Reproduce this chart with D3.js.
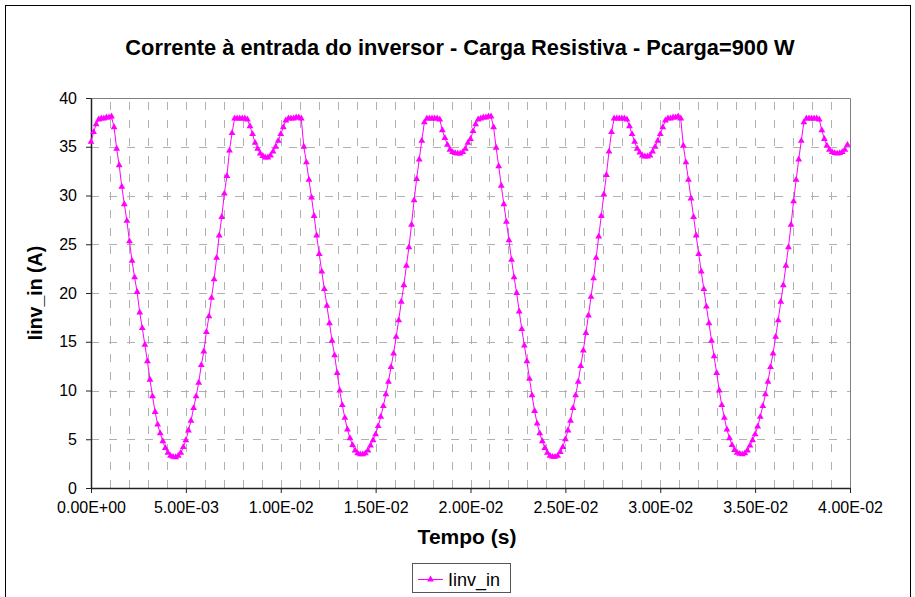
<!DOCTYPE html>
<html>
<head>
<meta charset="utf-8">
<script src="https://cdn.jsdelivr.net/npm/d3@7"></script>
<style>
  html, body { margin: 0; padding: 0; background: #fff; }
  svg { display: block; font-family: Arial, "Liberation Sans", sans-serif; }
</style>
</head>
<body>
<svg id="chart" width="915" height="597"></svg>
<script>
// ---- data ----
const chartTitle = "Corrente à entrada do inversor - Carga Resistiva - Pcarga=900 W";
const xAxisTitle = "Tempo (s)";
const yAxisTitle = "Iinv_in (A)";
const seriesName = "Iinv_in";
const sampleStep = 0.01 / 74;   // s, uniform sampling of the simulation output
const xTicks = [0, 0.005, 0.01, 0.015, 0.02, 0.025, 0.03, 0.035, 0.04];
const yTicks = [0, 5, 10, 15, 20, 25, 30, 35, 40];

// Iinv_in (A), one array per 10 ms period
const iinvPeriod1 = [
  35.5, 36.5, 37.3, 37.8, 37.9, 37.9, 38.0, 38.0, 38.1, 37.0,
  34.8, 33.1, 30.9, 29.1, 27.4, 25.3, 23.3, 21.6, 20.1, 18.0,
  16.4, 14.7, 13.0, 11.1, 9.4, 7.8, 6.5, 5.6, 4.8, 4.1,
  3.6, 3.3, 3.2, 3.15, 3.3, 3.6, 4.2, 4.9, 5.9, 6.9,
  8.2, 9.4, 10.8, 12.6, 14.0, 16.0, 17.6, 19.5, 21.4, 23.6,
  25.9, 27.8, 30.2, 32.0, 34.6, 36.4, 37.9, 37.9, 37.9, 37.9,
  37.9, 37.8, 37.1, 36.3, 35.4, 34.8, 34.3, 34.05, 33.9, 33.9,
  34.1, 34.5, 35.0, 35.6
];
const iinvPeriod2 = [
  36.3, 37.0, 37.7, 37.9, 37.9, 37.9, 38.0, 38.0, 37.9, 35.0,
  33.4, 31.6, 29.8, 27.9, 25.9, 24.0, 22.2, 20.4, 18.7, 16.9,
  15.1, 13.6, 11.8, 10.0, 8.5, 7.2, 6.0, 5.1, 4.4, 3.85,
  3.55, 3.45, 3.45, 3.55, 3.85, 4.35, 4.9, 5.5, 6.35, 7.3,
  8.4, 9.6, 10.9, 12.4, 13.8, 15.5, 17.2, 19.1, 20.8, 22.8,
  24.7, 27.0, 29.5, 31.7, 33.7, 35.6, 37.5, 37.9, 37.9, 37.9,
  37.9, 37.9, 37.8, 36.7, 35.9, 35.2, 34.7, 34.45, 34.35, 34.3,
  34.3, 34.45, 34.8, 35.4
];
const iinvPeriod3 = [
  35.8, 36.6, 37.3, 37.8, 37.9, 38.0, 38.0, 38.1, 38.1, 37.0,
  34.9, 33.0, 31.0, 29.1, 27.3, 25.4, 23.4, 21.6, 20.0, 18.1,
  16.3, 14.6, 13.0, 11.2, 9.5, 7.9, 6.6, 5.6, 4.8, 4.1,
  3.6, 3.3, 3.2, 3.2, 3.3, 3.7, 4.2, 5.0, 5.9, 6.9,
  8.2, 9.5, 10.9, 12.5, 14.1, 15.9, 17.7, 19.6, 21.5, 23.6,
  25.8, 27.9, 30.1, 32.1, 34.5, 36.5, 37.9, 37.9, 37.9, 37.9,
  37.9, 37.8, 37.1, 36.3, 35.5, 34.8, 34.4, 34.1, 34.0, 34.0,
  34.1, 34.5, 35.0, 35.6
];
const iinvPeriod4 = [
  36.3, 37.0, 37.7, 37.9, 37.9, 38.0, 38.0, 38.1, 37.9, 35.1,
  33.4, 31.6, 29.7, 27.8, 25.9, 24.0, 22.2, 20.4, 18.6, 16.9,
  15.1, 13.5, 11.8, 10.0, 8.5, 7.2, 6.0, 5.1, 4.4, 3.9,
  3.6, 3.5, 3.45, 3.55, 3.85, 4.35, 4.9, 5.5, 6.3, 7.3,
  8.4, 9.6, 10.9, 12.4, 13.8, 15.5, 17.2, 19.1, 20.8, 22.8,
  24.7, 27.0, 29.4, 31.6, 33.7, 35.6, 37.5, 37.9, 37.9, 37.9,
  37.9, 37.9, 37.8, 36.7, 35.8, 35.1, 34.7, 34.45, 34.35, 34.3,
  34.35, 34.45, 34.7, 35.2
];

const iinv = [].concat(iinvPeriod1, iinvPeriod2, iinvPeriod3, iinvPeriod4);
const data = iinv.map((v, i) => ({ t: i * sampleStep, v: v }));

// ---- layout ----
const svg = d3.select("#chart");
const plot = { left: 91, right: 850, top: 98, bottom: 488 };

svg.append("rect").attr("x", 0).attr("y", 0).attr("width", 915).attr("height", 597).attr("fill", "#fff");
svg.append("rect").attr("x", 5.5).attr("y", 5.5).attr("width", 905).attr("height", 620)
  .attr("fill", "none").attr("stroke", "#000").attr("stroke-width", 1);

const x = d3.scaleLinear().domain([0, 0.04]).range([plot.left, plot.right]);
const y = d3.scaleLinear().domain([0, 40]).range([plot.bottom, plot.top]);

// gridlines
const gridColor = "#b0b0b0";
const minorX = d3.range(1, 40).map(k => k * 0.001);
svg.append("g").selectAll("line").data(minorX).join("line")
  .attr("x1", d => Math.round(x(d)) + 0.5).attr("x2", d => Math.round(x(d)) + 0.5)
  .attr("y1", plot.bottom).attr("y2", plot.top)
  .attr("stroke", gridColor).attr("stroke-width", 1).attr("stroke-dasharray", "8,10");
svg.append("g").selectAll("line").data(yTicks.filter(d => d > 0 && d < 40)).join("line")
  .attr("x1", plot.left).attr("x2", plot.right)
  .attr("y1", d => Math.round(y(d)) + 0.5).attr("y2", d => Math.round(y(d)) + 0.5)
  .attr("stroke", gridColor).attr("stroke-width", 1).attr("stroke-dasharray", "8,10");

// plot-area border (top/right)
svg.append("path")
  .attr("d", `M${plot.left},${plot.top + 0.5}H${plot.right + 0.5}V${plot.bottom}`)
  .attr("fill", "none").attr("stroke", "#808080").attr("stroke-width", 1);

// axes
const fmtE = d => {
  const [m, e] = d.toExponential(2).split("e");
  const sign = e[0] === "-" ? "-" : "+";
  const digits = e.replace(/[+-]/, "").padStart(2, "0");
  return m + "E" + sign + digits;
};

const xAxis = svg.append("g").attr("transform", `translate(0,${plot.bottom})`)
  .call(d3.axisBottom(x).tickValues(xTicks).tickFormat(fmtE).tickSizeInner(5).tickSizeOuter(0).tickPadding(9));
const yAxis = svg.append("g").attr("transform", `translate(${plot.left},0)`)
  .call(d3.axisLeft(y).tickValues(yTicks).tickFormat(d3.format("d")).tickSizeInner(5).tickSizeOuter(0).tickPadding(9));
[xAxis, yAxis].forEach(g => {
  g.select(".domain").attr("stroke", "#222").attr("stroke-width", 1.5);
  g.selectAll(".tick line").attr("stroke", "#222");
  g.selectAll(".tick text").attr("fill", "#000").attr("font-size", 16)
    .attr("font-family", "Arial, 'Liberation Sans', sans-serif");
});

// series
const line = d3.line().x(d => x(d.t)).y(d => y(d.v));
svg.append("path").datum(data).attr("d", line)
  .attr("fill", "none").attr("stroke", "#ff00ff").attr("stroke-width", 1);
const tri = d3.symbol().type(d3.symbolTriangle).size(20);
svg.append("g").selectAll("path").data(data).join("path")
  .attr("transform", d => `translate(${x(d.t)},${y(d.v)})`)
  .attr("d", tri).attr("fill", "#ff00ff");

// titles
svg.append("text").attr("x", 460).attr("y", 55).attr("text-anchor", "middle")
  .attr("font-size", 21.8).attr("font-weight", "bold").text(chartTitle);
svg.append("text").attr("x", 467).attr("y", 544).attr("text-anchor", "middle")
  .attr("font-size", 21).attr("font-weight", "bold").text(xAxisTitle);
svg.append("text").attr("transform", "translate(42,293) rotate(-90)").attr("text-anchor", "middle")
  .attr("font-size", 19.5).attr("font-weight", "bold").text(yAxisTitle);

// legend
const lg = svg.append("g");
lg.append("rect").attr("x", 412.5).attr("y", 563.5).attr("width", 98).attr("height", 29)
  .attr("fill", "#fff").attr("stroke", "#555").attr("stroke-width", 1);
lg.append("line").attr("x1", 418).attr("x2", 443).attr("y1", 579.5).attr("y2", 579.5)
  .attr("stroke", "#ff00ff").attr("stroke-width", 1);
lg.append("path").attr("transform", "translate(430.5,579.5)").attr("d", tri).attr("fill", "#ff00ff");
lg.append("text").attr("x", 448).attr("y", 585.5).attr("font-size", 18).text(seriesName);
</script>
</body>
</html>
